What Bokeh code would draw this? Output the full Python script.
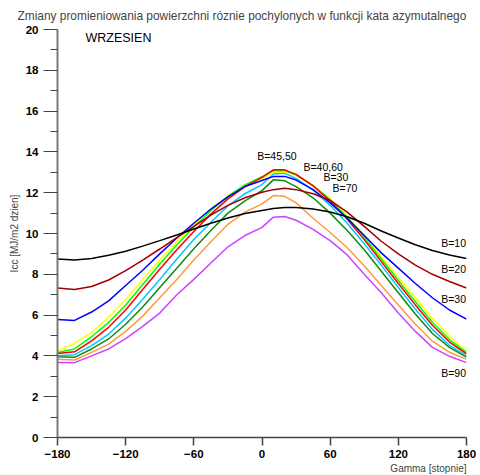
from bokeh.plotting import figure
from bokeh.models import Range1d, FixedTicker, Label, Title
from bokeh.embed import file_html
from bokeh.resources import INLINE

title_text = "Zmiany promieniowania powierzchni róznie pochylonych w funkcji kata azymutalnego"
month_text = "WRZESIEN"
x_label = "Gamma [stopnie]"
y_label = "Icc [MJ/m2 dzien]"

gamma = [-180, -165, -150, -135, -120, -105, -90, -75, -60, -45, -30, -15, 0, 10, 20, 30,
         45, 60, 75, 90, 105, 120, 135, 150, 165, 180]

b10 = [8.75, 8.70, 8.78, 8.93, 9.13, 9.38, 9.65, 9.93, 10.22, 10.5, 10.76, 10.98, 11.13, 11.22,
       11.28, 11.28, 11.2, 11.05, 10.82, 10.5, 10.12, 9.78, 9.45, 9.17, 8.95, 8.77]
b20 = [7.33, 7.25, 7.4, 7.72, 8.18, 8.7, 9.24, 9.8, 10.35, 10.9, 11.38, 11.75, 12.02, 12.15,
       12.22, 12.15, 11.95, 11.62, 11.05, 10.35, 9.62, 9.0, 8.45, 8.0, 7.65, 7.33]
b30 = [5.79, 5.74, 6.15, 6.7, 7.45, 8.2, 9.0, 9.78, 10.5, 11.2, 11.8, 12.3, 12.6, 12.8,
       12.8, 12.62, 12.15, 11.5, 10.75, 9.9, 9.05, 8.3, 7.55, 6.85, 6.25, 5.8]
b40 = [4.24, 4.61, 5.15, 5.89, 6.75, 7.75, 8.7, 9.6, 10.45, 11.2, 11.85, 12.35, 12.7, 13.0,
       13.02, 12.85, 12.35, 11.7, 10.85, 9.9, 8.85, 7.85, 6.85, 5.85, 4.95, 4.22]
b45 = [4.17, 4.34, 4.94, 5.64, 6.5, 7.5, 8.5, 9.45, 10.32, 11.12, 11.82, 12.38, 12.78, 13.08,
       13.08, 12.88, 12.35, 11.65, 10.78, 9.8, 8.75, 7.7, 6.65, 5.65, 4.8, 4.16]
b50 = [4.12, 4.2, 4.74, 5.4, 6.25, 7.25, 8.25, 9.2, 10.1, 10.95, 11.7, 12.3, 12.75, 13.12,
       13.12, 12.9, 12.33, 11.6, 10.7, 9.7, 8.62, 7.55, 6.5, 5.5, 4.68, 4.1]
b60 = [4.01, 4.06, 4.5, 5.07, 5.85, 6.78, 7.75, 8.75, 9.7, 10.55, 11.35, 11.95, 12.4, 12.92,
       12.95, 12.7, 12.12, 11.38, 10.5, 9.5, 8.45, 7.35, 6.3, 5.3, 4.52, 4.0]
b70 = [3.96, 3.93, 4.34, 4.83, 5.55, 6.4, 7.35, 8.3, 9.25, 10.15, 11.0, 11.6, 12.1, 12.63,
       12.58, 12.3, 11.75, 11.0, 10.15, 9.2, 8.15, 7.1, 6.05, 5.1, 4.42, 3.94]
b80 = [3.83, 3.8, 4.17, 4.58, 5.2, 5.95, 6.85, 7.75, 8.7, 9.6, 10.45, 11.05, 11.45, 11.86,
       11.82, 11.5, 10.75, 10.05, 9.3, 8.42, 7.45, 6.5, 5.55, 4.72, 4.18, 3.83]
b90 = [3.68, 3.67, 4.0, 4.34, 4.85, 5.45, 6.1, 7.0, 7.75, 8.55, 9.35, 9.9, 10.3, 10.8,
       10.83, 10.65, 10.2, 9.65, 8.95, 8.0, 7.1, 6.1, 5.2, 4.42, 3.98, 3.67]

series = [
    (b90, "#CC44FF"),
    (b80, "#FF9A3C"),
    (b70, "#108A10"),
    (b60, "#00C8FF"),
    (b40, "#FFFF00"),
    (b45, "#00FF00"),
    (b50, "#FF0000"),
    (b30, "#0000FF"),
    (b20, "#A00000"),
    (b10, "#000000"),
]

x_ticks = [-180, -120, -60, 0, 60, 120, 180]
y_ticks = [0, 2, 4, 6, 8, 10, 12, 14, 16, 18, 20]
y_minor = [1, 3, 5, 7, 9, 11, 13, 15, 17, 19]

curve_labels = [
    ("B=10", 179.6, 9.53, "right"),
    ("B=20", 179.6, 8.24, "right"),
    ("B=30", 179.6, 6.79, "right"),
    ("B=90", 179.6, 3.14, "right"),
    ("B=45,50", -4.2, 13.82, "left"),
    ("B=40,60", 36.5, 13.28, "left"),
    ("B=30", 54.1, 12.75, "left"),
    ("B=70", 62.1, 12.25, "left"),
]

FONT = "Liberation Sans"

p = figure(width=480, height=475, x_range=Range1d(-180, 180), y_range=Range1d(0, 20),
           output_backend="svg", toolbar_location=None,
           min_border_left=57, min_border_right=14, min_border_top=29, min_border_bottom=38)
p.outline_line_color = None
p.grid.visible = False
p.background_fill_color = "white"
p.border_fill_color = "white"

p.title.text = title_text
p.title.align = "left"
p.title.offset = -40
p.title.text_font = FONT
p.title.text_font_size = "11.9px"
p.title.text_font_style = "normal"
p.title.standoff = 13

for ys, col in series:
    p.line(gamma, ys, line_color=col, line_width=1.5)

xa = p.xaxis[0]
xa.ticker = FixedTicker(ticks=x_ticks)
xa.major_tick_in = 0
xa.major_tick_out = 8
xa.minor_tick_out = 0
xa.minor_tick_in = 0
xa.axis_line_color = "#444444"
xa.axis_line_width = 1.5
xa.major_tick_line_color = "#444444"
xa.major_tick_line_width = 1.5
xa.major_label_text_font = FONT
xa.major_label_text_font_style = "bold"
xa.major_label_text_font_size = "11.5px"
xa.major_label_text_color = "black"
xa.major_label_standoff = 4

ya = p.yaxis[0]
ya.ticker = FixedTicker(ticks=y_ticks, minor_ticks=y_minor)
ya.major_tick_in = 0
ya.major_tick_out = 14
ya.minor_tick_in = 0
ya.minor_tick_out = 7
ya.axis_line_color = "#7a7a7a"
ya.axis_line_width = 2
ya.major_tick_line_color = "#444444"
ya.minor_tick_line_color = "#444444"
ya.major_tick_line_width = 1.2
ya.minor_tick_line_width = 1.2
ya.major_label_text_font = FONT
ya.major_label_text_font_style = "bold"
ya.major_label_text_font_size = "11.5px"
ya.major_label_text_color = "black"
ya.major_label_standoff = 5
ya.axis_label = y_label
ya.axis_label_text_font = FONT
ya.axis_label_text_font_style = "normal"
ya.axis_label_text_font_size = "10px"
ya.axis_label_standoff = 3

for txt, lx, ly, al in curve_labels:
    p.add_layout(Label(x=lx, y=ly, text=txt, text_align=al, text_baseline="middle",
                       text_font=FONT, text_font_size="10.5px", text_color="black"))

p.add_layout(Label(x=-155.4, y=19.58, text=month_text, text_align="left", text_baseline="middle",
                   text_font=FONT, text_font_size="12.5px", text_color="black"))

xt = Title(text=x_label, align="right", text_font=FONT, text_font_size="10px",
           text_font_style="normal", standoff=0, offset=0)
p.add_layout(xt, "below")

open("out.html", "w").write(file_html(p, INLINE))
